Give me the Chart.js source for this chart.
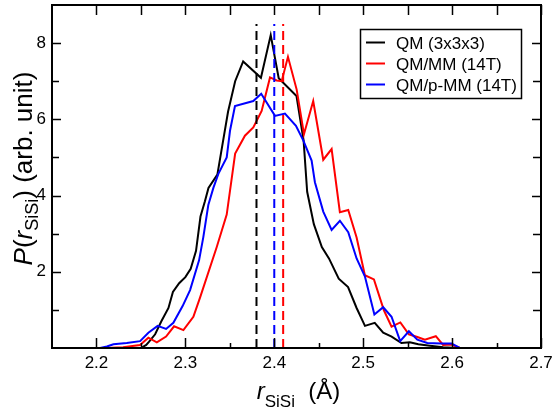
<!DOCTYPE html>
<html>
<head>
<meta charset="utf-8">
<script src="https://cdn.jsdelivr.net/npm/chart.js@4.4.1/dist/chart.umd.min.js"></script>
<style>
  html, body { margin: 0; padding: 0; background: #fff; }
</style>
</head>
<body>
<canvas id="chart" width="559" height="408"></canvas>
<script>
// QM (3x3x3)
const qmX = [2.20, 2.250, 2.256, 2.259, 2.266, 2.273, 2.281, 2.286, 2.293, 2.300, 2.306, 2.312, 2.317, 2.322, 2.326,
  2.336, 2.340, 2.348, 2.356, 2.365, 2.385, 2.396, 2.405, 2.425, 2.433, 2.437, 2.4445, 2.4535, 2.4615, 2.4725,
  2.483, 2.4926, 2.502, 2.513, 2.5225, 2.532, 2.543, 2.5525, 2.562, 2.575, 2.59, 2.605, 2.65];
const qmY = [0, 0, 0.08, 0.16, 0.36, 0.70, 1.05, 1.47, 1.70, 1.86, 2.08, 2.55, 3.45, 3.85, 4.20,
  4.55, 5.10, 6.20, 7.00, 7.52, 7.09, 8.21, 7.08, 6.61, 5.44, 4.10, 3.25, 2.65, 2.35, 1.82,
  1.60, 1.05, 0.58, 0.66, 0.40, 0.30, 0.13, 0.15, 0.10, 0.06, 0.02, 0, 0];

// QM/MM (14T)
const qmmmX = [2.21, 2.230, 2.249, 2.2584, 2.2679, 2.2783, 2.2873, 2.2978, 2.309, 2.3165, 2.3353, 2.3465, 2.356,
  2.367, 2.3764, 2.3858, 2.3952, 2.4027, 2.4083, 2.4154, 2.4252, 2.4334, 2.4438, 2.4551, 2.4645, 2.4738,
  2.4832, 2.4926, 2.5019, 2.5121, 2.5233, 2.5319, 2.5418, 2.5514, 2.5609, 2.5694, 2.5817, 2.5899, 2.5993,
  2.6087, 2.65];
const qmmmY = [0, 0.02, 0.08, 0.27, 0.15, 0.30, 0.57, 0.47, 0.82, 1.32, 2.65, 3.50, 5.10,
  5.57, 5.79, 6.22, 7.10, 7.02, 7.00, 7.64, 6.78, 5.61, 6.48, 4.94, 5.22, 3.56,
  3.62, 2.90, 1.91, 1.80, 0.99, 0.56, 0.67, 0.36, 0.29, 0.22, 0.31, 0.08, 0.09,
  0, 0];

// QM/p-MM (14T)
const pmmX = [2.2042, 2.2117, 2.2191, 2.2341, 2.2491, 2.2584, 2.2688, 2.2783, 2.2865, 2.2969, 2.3053, 2.3154,
  2.3202, 2.3258, 2.3315, 2.3371, 2.3465, 2.3502, 2.3558, 2.3764, 2.3853, 2.4008, 2.412, 2.4244, 2.4326,
  2.442, 2.4457, 2.4551, 2.4645, 2.4738, 2.4832, 2.4926, 2.5019, 2.5126, 2.5225, 2.5319, 2.5416, 2.5514,
  2.5609, 2.5721, 2.5873, 2.5993, 2.6087, 2.65];
const pmmY = [0, 0.04, 0.10, 0.13, 0.18, 0.40, 0.58, 0.50, 0.66, 1.10, 1.52, 2.30,
  2.91, 3.75, 4.20, 4.57, 5.00, 5.70, 6.35, 6.48, 6.67, 6.09, 6.15, 5.83, 5.45,
  4.92, 4.35, 3.58, 3.10, 3.34, 3.04, 2.35, 1.88, 0.88, 1.07, 0.82, 0.18, 0.44,
  0.22, 0.13, 0.12, 0.12, 0, 0];

// mean distances (dashed markers)
const meanX = [2.38, 2.41, 2.40];
const meanTop = 8.5;

const seriesLabels = ["QM (3x3x3)", "QM/MM (14T)", "QM/p-MM (14T)"];
const seriesColors = ["#000000", "#ff0000", "#0000ff"];

const xTickLabels = [2.2, 2.3, 2.4, 2.5, 2.6, 2.7];
const xMinorTicks = [2.25, 2.35, 2.45, 2.55, 2.65];
const yTickLabels = [2, 4, 6, 8];
const yMinorTicks = [1, 3, 5, 7];

const FONT = '"Liberation Sans", Arial, Helvetica, sans-serif';

function pts(xs, ys){ return xs.map((x, i) => ({ x, y: ys[i] })); }

const curves = [[qmX, qmY], [qmmmX, qmmmY], [pmmX, pmmY]].map(([xs, ys], i) => ({
  label: seriesLabels[i],
  data: pts(xs, ys),
  borderColor: seriesColors[i],
  borderWidth: 2,
  pointRadius: 0,
  tension: 0,
  fill: false,
  order: 3 - i,
  inLegend: true
}));

const markers = meanX.map((m, i) => ({
  label: "mean " + seriesLabels[i],
  data: [{ x: m, y: 0 }, { x: m, y: meanTop }],
  borderColor: seriesColors[i],
  borderWidth: 2,
  borderDash: [9, 5],
  pointRadius: 0,
  fill: false,
  order: 0,
  inLegend: false
}));

// frame + inward ticks
const framePlugin = {
  id: "frame",
  afterDatasetsDraw(chart){
    const { ctx, chartArea: a, scales: { x, y } } = chart;
    ctx.save();
    ctx.strokeStyle = "#000";
    ctx.lineWidth = 1.5;
    ctx.beginPath();
    xTickLabels.forEach(v => {
      const px = Math.round(x.getPixelForValue(v)) + 0.5;
      ctx.moveTo(px, a.bottom); ctx.lineTo(px, a.bottom - 10);
      ctx.moveTo(px, a.top); ctx.lineTo(px, a.top + 10);
    });
    xMinorTicks.forEach(v => {
      const px = Math.round(x.getPixelForValue(v)) + 0.5;
      ctx.moveTo(px, a.bottom); ctx.lineTo(px, a.bottom - 5);
      ctx.moveTo(px, a.top); ctx.lineTo(px, a.top + 10);
    });
    yTickLabels.forEach(v => {
      const py = Math.round(y.getPixelForValue(v)) + 0.5;
      ctx.moveTo(a.left, py); ctx.lineTo(a.left + 9, py);
      ctx.moveTo(a.right, py); ctx.lineTo(a.right - 9, py);
    });
    yMinorTicks.forEach(v => {
      const py = Math.round(y.getPixelForValue(v)) + 0.5;
      ctx.moveTo(a.left, py); ctx.lineTo(a.left + 7, py);
      ctx.moveTo(a.right, py); ctx.lineTo(a.right - 8, py);
    });
    ctx.stroke();
    ctx.lineWidth = 2;
    ctx.strokeRect(a.left, a.top, a.right - a.left, a.bottom - a.top);
    ctx.restore();
  }
};

function drawParts(ctx, parts, x0, y0){
  let x = x0;
  parts.forEach(p => {
    ctx.font = p.font;
    ctx.fillText(p.t, x, y0 + (p.dy || 0));
    x += ctx.measureText(p.t).width;
  });
}
function partsWidth(ctx, parts){
  return parts.reduce((w, p) => { ctx.font = p.font; return w + ctx.measureText(p.t).width; }, 0);
}

const titlePlugin = {
  id: "titles",
  afterDraw(chart){
    const { ctx, chartArea: a } = chart;
    ctx.save();
    ctx.fillStyle = "#000";
    ctx.textBaseline = "alphabetic";
    ctx.textAlign = "left";

    const xParts = [
      { t: "r", font: "italic 24px " + FONT },
      { t: "SiSi", font: "17px " + FONT, dy: 7.5 },
      { t: "  (Å)", font: "24px " + FONT }
    ];
    const xw = partsWidth(ctx, xParts);
    drawParts(ctx, xParts, (a.left + a.right) / 2 + 2 - xw / 2, 399);

    const yParts = [
      { t: "P", font: "italic 26px " + FONT },
      { t: "(", font: "26px " + FONT },
      { t: "r", font: "italic 26px " + FONT },
      { t: "SiSi", font: "18px " + FONT, dy: 6 },
      { t: ") (arb. unit)", font: "26px " + FONT }
    ];
    const yw = partsWidth(ctx, yParts);
    ctx.translate(32, 168.5);
    ctx.rotate(-Math.PI / 2);
    drawParts(ctx, yParts, -yw / 2, 0);
    ctx.restore();
  }
};

const legendPlugin = {
  id: "boxLegend",
  afterDraw(chart){
    const ctx = chart.ctx;
    const items = chart.data.datasets.filter(d => d.inLegend);
    ctx.save();
    ctx.fillStyle = "#fff";
    ctx.fillRect(360, 29, 161, 69);
    ctx.strokeStyle = "#000";
    ctx.lineWidth = 1.5;
    ctx.strokeRect(360.5, 29.5, 161, 69);
    ctx.font = "17px " + FONT;
    ctx.textBaseline = "alphabetic";
    items.forEach((d, i) => {
      const yy = 42.5 + i * 21;
      ctx.strokeStyle = d.borderColor;
      ctx.lineWidth = 2;
      ctx.beginPath(); ctx.moveTo(366, yy); ctx.lineTo(385, yy); ctx.stroke();
      ctx.fillStyle = "#000";
      ctx.fillText(d.label, 396, yy + 6.5);
    });
    ctx.restore();
  }
};

Chart.defaults.color = "#000";
Chart.defaults.font.family = FONT;

new Chart(document.getElementById("chart"), {
  type: "line",
  data: { datasets: [...markers, ...curves] },
  options: {
    responsive: false,
    animation: false,
    layout: { padding: { top: 5, right: 18, left: 0, bottom: 0 } },
    plugins: { legend: { display: false }, tooltip: { enabled: false } },
    scales: {
      x: {
        type: "linear",
        min: 2.15, max: 2.7,
        grid: { display: false, drawTicks: false },
        border: { display: false },
        ticks: {
          font: { size: 17 }, padding: 5, autoSkip: false, maxRotation: 0,
          callback: v => v.toFixed(1)
        },
        afterBuildTicks: s => { s.ticks = xTickLabels.map(v => ({ value: v })); },
        afterFit: s => { s.height = 60; s.paddingLeft = 0; s.paddingRight = 0; }
      },
      y: {
        type: "linear",
        min: 0, max: 9,
        grid: { display: false, drawTicks: false },
        border: { display: false },
        ticks: { font: { size: 17 }, padding: 6, callback: v => String(v) },
        afterBuildTicks: s => { s.ticks = yTickLabels.map(v => ({ value: v })); },
        afterFit: s => { s.width = 52; s.paddingTop = 0; s.paddingBottom = 0; }
      }
    }
  },
  plugins: [framePlugin, titlePlugin, legendPlugin]
});
</script>
</body>
</html>
